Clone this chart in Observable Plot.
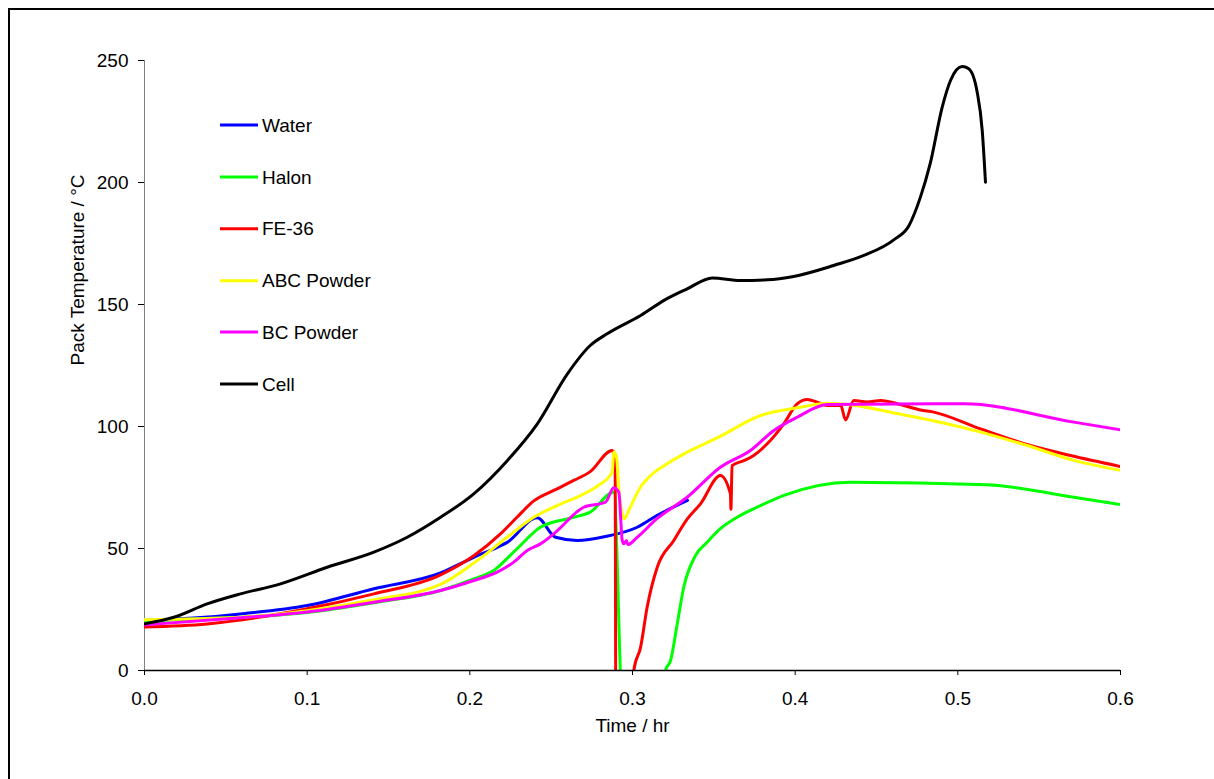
<!DOCTYPE html>
<html>
<head>
<meta charset="utf-8">
<script src="https://cdn.jsdelivr.net/npm/d3@7"></script>
<script src="https://cdn.jsdelivr.net/npm/@observablehq/plot@0.6"></script>
<style>
  html, body { margin: 0; padding: 0; background: #fff; overflow: hidden; }
  #wrap { position: relative; width: 1214px; height: 779px; font-family: "Liberation Sans", Arial, sans-serif; }
  #frame { position: absolute; left: 8px; top: 8px; width: 1400px; height: 1000px; border: 2px solid #000; pointer-events: none; }
  #legend { position: absolute; left: 0; top: 0; pointer-events: none; }
</style>
</head>
<body>
<div id="wrap"><div id="chart"></div><div id="frame"></div></div>
<script>
// ---- data (time in hr, temperature in °C) ----
const water = [[0,20.5],[0.03,21.5],[0.059,23.2],[0.1,26.6],[0.141,33.5],[0.182,40.0],[0.2024,46.4],[0.2168,50.5],[0.223,52.5],[0.2414,62.6],[0.2527,54.6],[0.266,53.3],[0.2834,54.9],[0.3029,58.7],[0.315,63.5],[0.3338,69.7]];
const halon = [[0,20.5],[0.05,21.5],[0.1,23.8],[0.141,27.8],[0.182,32.8],[0.2024,37.5],[0.2147,41],[0.229,49.9],[0.2434,58.7],[0.2639,62.8],[0.274,64.9],[0.2885,73.1],[0.2925,0],[0.2935,-20],[0.319,-20],[0.3203,0],[0.3234,4.1],[0.3275,19.1],[0.3315,34.1],[0.3387,47.1],[0.3459,52.6],[0.354,58.1],[0.3643,62.8],[0.3787,67.6],[0.394,72],[0.434,77.2],[0.518,76.1],[0.5713,71],[0.6,68]];
const fe36 = [[0,17.8],[0.0385,19.1],[0.1,25.3],[0.141,31.4],[0.182,39.2],[0.2024,47],[0.2188,56],[0.229,62.8],[0.2393,69.5],[0.2516,73.8],[0.2639,77.9],[0.274,81.5],[0.2875,90.2],[0.2893,88],[0.2898,-20],[0.2995,-20],[0.3008,0],[0.305,9.6],[0.309,25.9],[0.3152,42.3],[0.3254,53.3],[0.3336,62],[0.3418,68.3],[0.354,79.9],[0.3602,72.4],[0.3605,66],[0.3612,84],[0.3684,86],[0.3745,88.1],[0.3828,92.9],[0.393,101.1],[0.4012,109.3],[0.4074,111.1],[0.4135,110],[0.4197,108.6],[0.428,108.6],[0.431,102.7],[0.436,110.7],[0.4443,110],[0.4525,110.7],[0.4647,109],[0.477,106.8],[0.4852,105.9],[0.514,99],[0.5447,92.2],[0.5693,88.1],[0.6,83.6]];
const abcPowder = [[0,20.8],[0.059,21.8],[0.1,24.5],[0.141,29],[0.182,35.3],[0.2024,44],[0.223,54.6],[0.2393,62.8],[0.2537,67.6],[0.268,71.7],[0.2783,75.5],[0.2875,81.3],[0.2885,89.5],[0.2902,87.4],[0.2916,73.8],[0.2937,64.2],[0.2951,62.2],[0.2977,65.6],[0.3049,75.1],[0.3111,79.9],[0.3213,84.7],[0.3357,90.2],[0.352,95.3],[0.3787,104.5],[0.4033,107.9],[0.4197,109.5],[0.4689,104.5],[0.514,97.7],[0.5426,92.2],[0.5713,86.1],[0.6,82]];
const bcPowder = [[0,18.7],[0.059,21.6],[0.1,24],[0.141,28],[0.182,32.8],[0.2024,36.9],[0.2168,40.3],[0.227,44.4],[0.2353,49.2],[0.2434,51.9],[0.2516,56],[0.27,66.9],[0.2834,69],[0.2885,74.9],[0.2916,73.1],[0.2937,53.3],[0.2947,51.9],[0.2963,53.3],[0.2971,51.6],[0.3029,54.6],[0.315,62.2],[0.3336,71],[0.354,83.3],[0.3725,90.2],[0.3869,98.4],[0.4012,103.8],[0.4197,109],[0.5037,109.3],[0.5713,101.8],[0.6,98.6]];
const cell = [[0,19.1],[0.018,21.8],[0.0385,27.3],[0.059,31.4],[0.0836,35.5],[0.1123,42.3],[0.141,48.5],[0.1615,54.6],[0.182,62.8],[0.2024,72.4],[0.223,86],[0.2414,101],[0.26,121.6],[0.274,133.2],[0.2844,138],[0.305,145.5],[0.321,152.3],[0.3336,156.4],[0.349,160.9],[0.3664,159.8],[0.3828,160.1],[0.399,161.5],[0.4237,166],[0.4422,170.1],[0.4606,176.5],[0.47,182.4],[0.477,194],[0.483,207.7],[0.4904,230.9],[0.4955,241.8],[0.5027,247.5],[0.5067,246.6],[0.5119,237],[0.515,221.3],[0.517,200.1]];

const seriesNames = ["Water", "Halon", "FE-36", "ABC Powder", "BC Powder", "Cell"];
const seriesColors = ["#0000ff", "#00ff00", "#ff0000", "#ffff00", "#ff00ff", "#000000"];
const seriesData = [water, halon, fe36, abcPowder, bcPowder, cell];
const xTicks = [0, 0.1, 0.2, 0.3, 0.4, 0.5, 0.6];
const yTicks = [0, 50, 100, 150, 200, 250];
const xTitle = "Time / hr";
const yTitle = "Pack Temperature / °C";

const rows = seriesData.flatMap((arr, i) => arr.map(([t, v]) => ({series: seriesNames[i], t, v})));

const W = 1214, H = 779;
const chart = Plot.plot({
  width: W,
  height: H,
  marginLeft: 144,
  marginRight: 94,
  marginTop: 60,
  marginBottom: 109,
  style: {fontFamily: '"Liberation Sans", Arial, sans-serif', fontSize: "19px", background: "transparent", color: "#000"},
  x: {domain: [0, 0.6], ticks: xTicks, tickFormat: d3.format(".1f"), tickSize: 5, tickPadding: 16, label: null},
  y: {domain: [0, 250], ticks: yTicks, tickSize: 6, tickPadding: 10, label: null},
  color: {domain: seriesNames, range: seriesColors},
  marks: [
    Plot.ruleX([0], {stroke: "#808080", strokeWidth: 1}),
    Plot.line(rows, {x: "t", y: "v", z: "series", stroke: "series", strokeWidth: 3, clip: true, curve: "monotone-x", strokeLinejoin: "round"}),
    Plot.ruleY([0], {stroke: "#000", strokeWidth: 1.5}),
    Plot.text([xTitle], {frameAnchor: "bottom", dy: 61, text: d => d, fontSize: 19}),
    Plot.text([yTitle], {frameAnchor: "left", dx: -67, rotate: -90, text: d => d, fontSize: 19})
  ]
});
document.getElementById("chart").appendChild(chart);

// legend overlay
const leg = d3.select("#wrap").append("svg").attr("id", "legend").attr("width", W).attr("height", H);
const rowY = [125, 177, 228.7, 280.7, 332, 384];
seriesNames.forEach((name, i) => {
  const g = leg.append("g").attr("transform", `translate(0,${rowY[i]})`);
  g.append("line").attr("x1", 220).attr("x2", 258).attr("y1", 0).attr("y2", 0)
    .attr("stroke", seriesColors[i]).attr("stroke-width", 3);
  g.append("text").attr("x", 262).attr("y", 0).attr("dy", "0.35em")
    .attr("font-family", '"Liberation Sans", Arial, sans-serif').attr("font-size", 19)
    .attr("fill", "#000").text(name);
});
</script>
</body>
</html>
